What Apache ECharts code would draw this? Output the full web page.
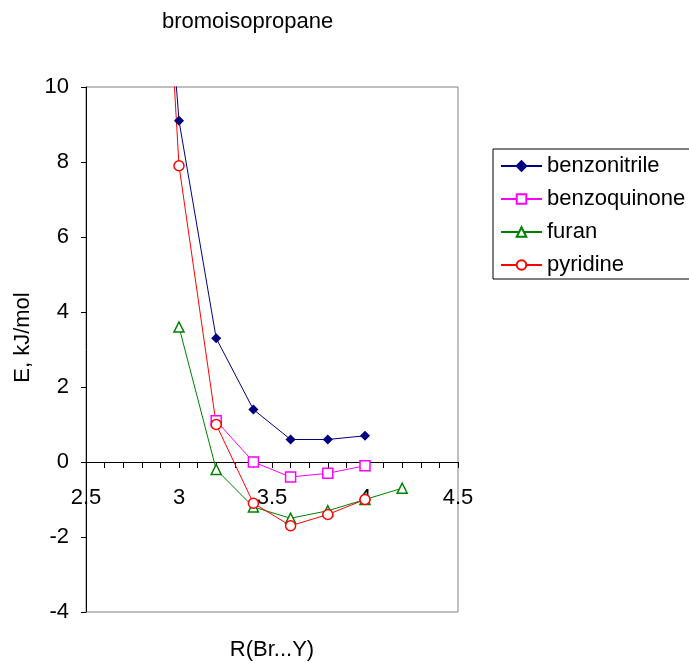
<!DOCTYPE html>
<html><head><meta charset="utf-8">
<script src="https://cdn.jsdelivr.net/npm/echarts@6/dist/echarts.min.js"></script>
<style>html,body{margin:0;padding:0;background:#fff}#c{width:689px;height:663px}</style>
</head><body><div id="c"></div>
<script>
const titleText = 'bromoisopropane';
const xName = 'R(Br...Y)';
const yName = 'E, kJ/mol';
const seriesNames = ['benzonitrile', 'benzoquinone', 'furan', 'pyridine'];
const benzonitrile = [[2.8, 22], [3.0, 9.1], [3.2, 3.3], [3.4, 1.4], [3.6, 0.6], [3.8, 0.6], [4.0, 0.7]];
const benzoquinone = [[3.2, 1.1], [3.4, 0.0], [3.6, -0.4], [3.8, -0.3], [4.0, -0.1]];
const furan = [[3.0, 3.6], [3.2, -0.2], [3.4, -1.2], [3.6, -1.5], [3.8, -1.3], [4.0, -1.0], [4.2, -0.7]];
const pyridine = [[2.8, 25], [3.0, 7.9], [3.2, 1.0], [3.4, -1.1], [3.6, -1.7], [3.8, -1.4], [4.0, -1.0]];
const xTicks = [2.5, 3, 3.5, 4, 4.5];
const yTicks = [-4, -2, 0, 2, 4, 6, 8, 10];

const FONT = 'Liberation Sans, Arial, sans-serif';
const FS = 22;
const styles = [
  {color: '#000080', symbol: 'diamond', size: 8, fill: '#000080'},
  {color: '#FF00FF', symbol: 'rect', size: 10, fill: '#ffffff'},
  {color: '#008000', symbol: 'triangle', size: 10, fill: '#ffffff'},
  {color: '#FF0000', symbol: 'circle', size: 10, fill: '#ffffff'}
];
const dataSets = [benzonitrile, benzoquinone, furan, pyridine];

const gridTop = 87, gridBottom = 51, H = 663;
const plotH = H - gridTop - gridBottom;
const yMin = yTicks[0], yMax = yTicks[yTicks.length - 1];
// distance from grid bottom up to the y=0 line, derived from the axis range
const zeroOffset = plotH * (0 - yMin) / (yMax - yMin);

const chart = echarts.init(document.getElementById('c'));
chart.setOption({
  animation: false,
  backgroundColor: '#fff',
  title: {text: titleText, left: 157, top: 6, textStyle: {fontFamily: FONT, fontSize: FS, fontWeight: 'normal', color: '#000'}},
  grid: {left: 86, right: 231, top: gridTop, bottom: gridBottom, show: true, borderColor: '#808080', borderWidth: 1,
         backgroundColor: 'transparent', containLabel: false, outerBoundsMode: 'none'},
  legend: {
    orient: 'vertical', left: 493, top: 149,
    data: seriesNames,
    itemWidth: 41, itemHeight: 12, itemGap: 11,
    padding: [6, 8, 3, 7],
    borderColor: '#000', borderWidth: 1,
    textStyle: {fontFamily: FONT, fontSize: FS, color: '#000'}
  },
  xAxis: {
    type: 'value', min: xTicks[0], max: xTicks[xTicks.length - 1], interval: 0.5,
    position: 'bottom', offset: -zeroOffset,
    name: xName, nameLocation: 'middle', nameGap: 177,
    nameTextStyle: {fontFamily: FONT, fontSize: FS, color: '#000', verticalAlign: 'top'},
    axisLine: {onZero: false, lineStyle: {color: '#000', width: 1}},
    axisTick: {show: true, inside: false, length: 6, lineStyle: {color: '#000'}},
    minorTick: {show: true, splitNumber: 5, length: 6, lineStyle: {color: '#000'}},
    splitLine: {show: false},
    axisLabel: {margin: 25, fontFamily: FONT, fontSize: FS, color: '#000', formatter: v => String(v)}
  },
  yAxis: {
    type: 'value', min: yMin, max: yMax, interval: 2,
    name: yName, nameLocation: 'middle', nameGap: 50, nameRotate: 90,
    nameTextStyle: {fontFamily: FONT, fontSize: FS, color: '#000', padding: [0, 0, 0, 24]},
    axisLine: {onZero: false, lineStyle: {color: '#000', width: 1}},
    axisTick: {show: true, inside: false, length: 5, lineStyle: {color: '#000'}},
    splitLine: {show: false},
    axisLabel: {margin: 17, fontFamily: FONT, fontSize: FS, color: '#000'}
  },
  series: seriesNames.map((n, i) => ({
    name: n, type: 'line', data: dataSets[i], clip: true,
    symbol: styles[i].symbol, symbolSize: styles[i].size, showAllSymbol: true,
    lineStyle: {color: styles[i].color, width: 1},
    itemStyle: {color: styles[i].fill, borderColor: styles[i].color, borderWidth: 1.5},
    emphasis: {disabled: true}
  }))
});
</script></body></html>
